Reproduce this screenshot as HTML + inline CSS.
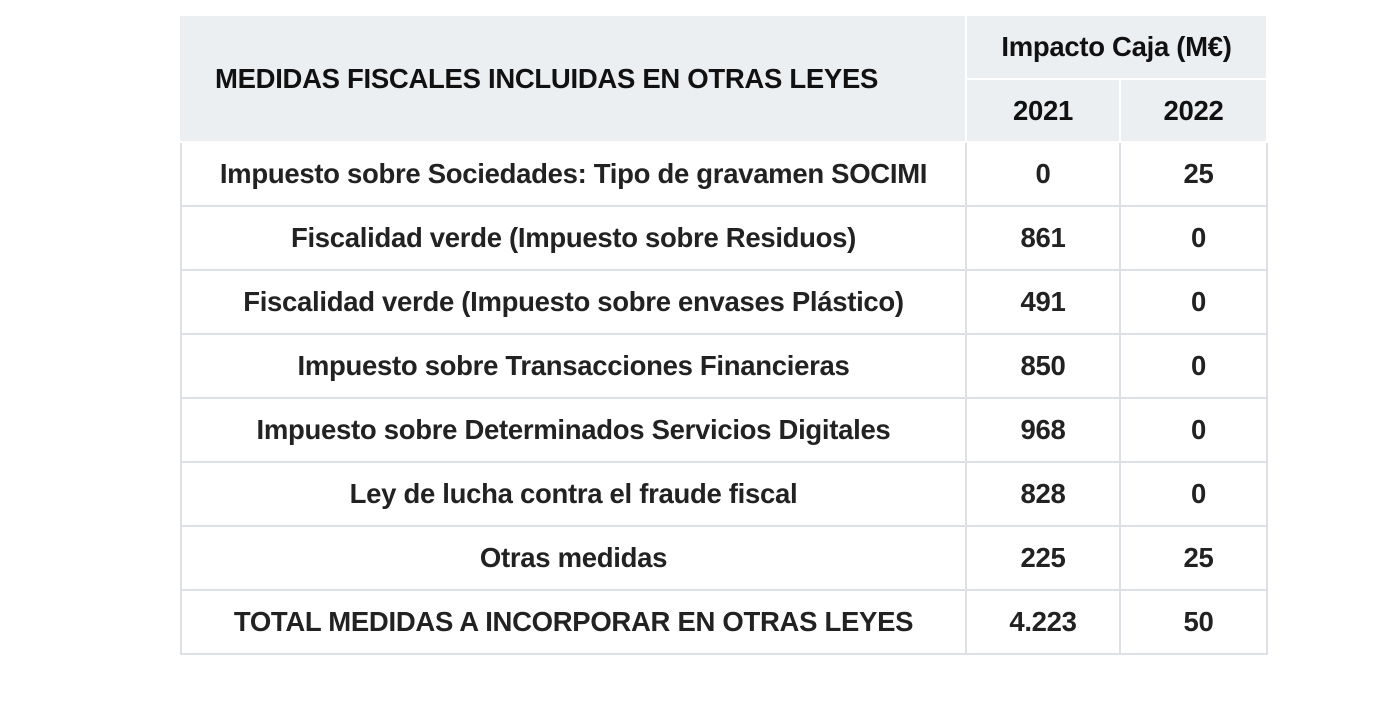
<!DOCTYPE html>
<html><head><meta charset="utf-8"><style>
html,body{margin:0;padding:0;background:#fff;width:1382px;height:722px;overflow:hidden}
table{position:absolute;left:180px;top:14px;border-collapse:collapse;font-family:"Liberation Sans",sans-serif;font-weight:bold;color:#222;font-size:27.5px;letter-spacing:-0.3px;table-layout:fixed}
td,th{border:2px solid #dde1e5;text-align:center;padding:0;height:64px;box-sizing:border-box}
th{background:#eceff2;border-color:#fff;color:#111;font-size:27.5px}
thead tr:first-child th{border-top-color:#fff}
th.left{text-align:left;padding-left:33px;border-left-color:#eceff2}
</style></head><body>
<table>
<colgroup><col style="width:785px"><col style="width:154px"><col style="width:147px"></colgroup>
<thead>
<tr><th class="left" rowspan="2" style="height:127px">MEDIDAS FISCALES INCLUIDAS EN OTRAS LEYES</th><th colspan="2" style="height:64px">Impacto Caja (M€)</th></tr>
<tr><th style="height:63px">2021</th><th style="height:63px">2022</th></tr>
</thead>
<tbody>
<tr><td>Impuesto sobre Sociedades: Tipo de gravamen SOCIMI</td><td>0</td><td style="padding-left:10px">25</td></tr>
<tr><td>Fiscalidad verde (Impuesto sobre Residuos)</td><td>861</td><td style="padding-left:10px">0</td></tr>
<tr><td>Fiscalidad verde (Impuesto sobre envases Plástico)</td><td>491</td><td style="padding-left:10px">0</td></tr>
<tr><td>Impuesto sobre Transacciones Financieras</td><td>850</td><td style="padding-left:10px">0</td></tr>
<tr><td>Impuesto sobre Determinados Servicios Digitales</td><td>968</td><td style="padding-left:10px">0</td></tr>
<tr><td>Ley de lucha contra el fraude fiscal</td><td>828</td><td style="padding-left:10px">0</td></tr>
<tr><td>Otras medidas</td><td>225</td><td style="padding-left:10px">25</td></tr>
<tr><td>TOTAL MEDIDAS A INCORPORAR EN OTRAS LEYES</td><td>4.223</td><td style="padding-left:10px">50</td></tr>
</tbody>
</table>
</body></html>
